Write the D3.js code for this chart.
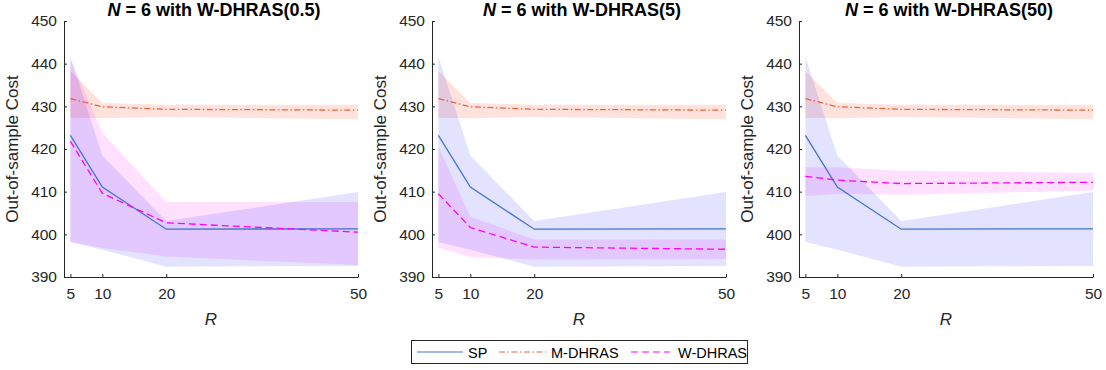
<!DOCTYPE html>
<html>
<head>
<meta charset="utf-8">
<script src="https://cdn.jsdelivr.net/npm/d3@7"></script>
<style>
  body { margin: 0; background: #fff; }
  svg { font-family: "Liberation Sans", Arial, sans-serif; }
  .axis path, .axis line { stroke: #262626; }
  .axis text { fill: #262626; font-size: 15.5px; }
</style>
</head>
<body>
<svg id="chart" width="1106" height="370"></svg>
<script>
// --- data ---
const R = [5, 10, 20, 50];
const yTicks = [390, 400, 410, 420, 430, 440, 450];
const xTicks = [5, 10, 20, 50];

const spMean = [423.2, 411.1, 401.2, 401.3];
const spLo = [398.2, 396.4, 392.4, 392.6];
const spHi = [441.6, 418.5, 403.1, 409.9];

const mMean = [431.8, 429.9, 429.3, 429.1];
const mLo = [427.3, 427.2, 427.5, 427.0];
const mHi = [438.3, 430.8, 430.4, 430.4];

const panelTitles = ["6 with W-DHRAS(0.5)", "6 with W-DHRAS(5)", "6 with W-DHRAS(50)"];
const wMean = [
    [421.8, 409.6, 402.7, 400.5],
    [409.5, 401.6, 397.0, 396.5],
    [413.6, 412.7, 411.9, 412.2]
];
const wLo = [
    [398.2, 396.8, 394.8, 392.8],
    [396.9, 394.7, 394.1, 394.2],
    [409.0, 409.5, 409.3, 410.2]
];
const wHi = [
    [441.0, 423.8, 407.6, 407.6],
    [420.5, 404.1, 398.8, 398.8],
    [415.7, 415.7, 414.9, 414.4]
];

const legendNames = ["SP", "M-DHRAS", "W-DHRAS"];

// --- styles ---
const spColor = "#4274d0", mColor = "#e8653f", wColor = "#ff00ff";
const mDash = "6,2.5,1.5,2.5", wDash = "7,4";

const svg = d3.select("#chart");
const panelLeft = [64, 432, 799];
const plotW = 294, plotTop = 21, plotBottom = 277;

const y = d3.scaleLinear().domain([390, 450]).range([plotBottom, plotTop]);

panelLeft.forEach((left, i) => {
    const x = d3.scaleLinear().domain([4, 50]).range([left, left + plotW]);

    const area = d3.area().x((d, j) => x(R[j])).y0(d => y(d[0])).y1(d => y(d[1]));
    const line = d3.line().x((d, j) => x(R[j])).y(d => y(d));

    const band = (lo, hi, fill, op) => svg.append("path")
        .datum(lo.map((v, j) => [v, hi[j]]))
        .attr("d", area)
        .attr("fill", fill)
        .attr("fill-opacity", op);

    band(mLo, mHi, "#ff3a10", 0.15);
    band(wLo[i], wHi[i], "#ff00ff", 0.12);
    band(spLo, spHi, "#0000ff", 0.11);

    svg.append("path").datum(spMean).attr("d", line)
        .attr("fill", "none").attr("stroke", spColor).attr("stroke-width", 1.3);
    svg.append("path").datum(mMean).attr("d", line)
        .attr("fill", "none").attr("stroke", mColor).attr("stroke-width", 1.3)
        .attr("stroke-dasharray", mDash);
    svg.append("path").datum(wMean[i]).attr("d", line)
        .attr("fill", "none").attr("stroke", wColor).attr("stroke-width", 1.3)
        .attr("stroke-dasharray", wDash);

    // axes (ticks pointing inward)
    svg.append("g").attr("class", "axis")
        .attr("transform", `translate(0,${plotBottom})`)
        .call(d3.axisBottom(x).tickValues(xTicks).tickSize(-3).tickSizeOuter(0).tickPadding(8))
        .call(g => g.selectAll("text").attr("dy", "0.9em"));

    svg.append("g").attr("class", "axis")
        .attr("transform", `translate(${left},0)`)
        .call(d3.axisLeft(y).tickValues(yTicks).tickSize(-3).tickSizeOuter(0).tickPadding(7));

    // title
    const t = svg.append("text")
        .attr("x", left + plotW / 2 + 3).attr("y", 15.5)
        .attr("text-anchor", "middle")
        .attr("font-size", 18).attr("font-weight", "bold").attr("fill", "#000");
    t.append("tspan").attr("font-style", "italic").text("N");
    t.append("tspan").text(" = " + panelTitles[i]);

    // axis labels
    svg.append("text")
        .attr("x", left + plotW / 2).attr("y", 325)
        .attr("text-anchor", "middle").attr("font-size", 17)
        .attr("font-style", "italic").attr("fill", "#262626").text("R");

    svg.append("text")
        .attr("transform", `translate(${left - 46},${(plotTop + plotBottom) / 2}) rotate(-90)`)
        .attr("text-anchor", "middle").attr("font-size", 17)
        .attr("fill", "#262626").text("Out-of-sample Cost");
});

// --- legend ---
const leg = svg.append("g");
leg.append("rect").attr("x", 411.5).attr("y", 340.5).attr("width", 336).attr("height", 23)
    .attr("fill", "#fff").attr("stroke", "#262626").attr("stroke-width", 1);

const legItems = [
    { x0: 417, x1: 463, color: spColor, dash: null },
    { x0: 499, x1: 546, color: mColor, dash: mDash },
    { x0: 631, x1: 670, color: wColor, dash: wDash }
];
legItems.forEach((it, k) => {
    leg.append("line").attr("x1", it.x0).attr("x2", it.x1).attr("y1", 352).attr("y2", 352)
        .attr("stroke", it.color).attr("stroke-width", 1.2)
        .attr("stroke-dasharray", it.dash);
    leg.append("text").attr("x", it.x1 + (k === 2 ? 8 : 5)).attr("y", 357.5)
        .attr("font-size", 14.5).attr("fill", "#000").text(legendNames[k]);
});
</script>
</body>
</html>
